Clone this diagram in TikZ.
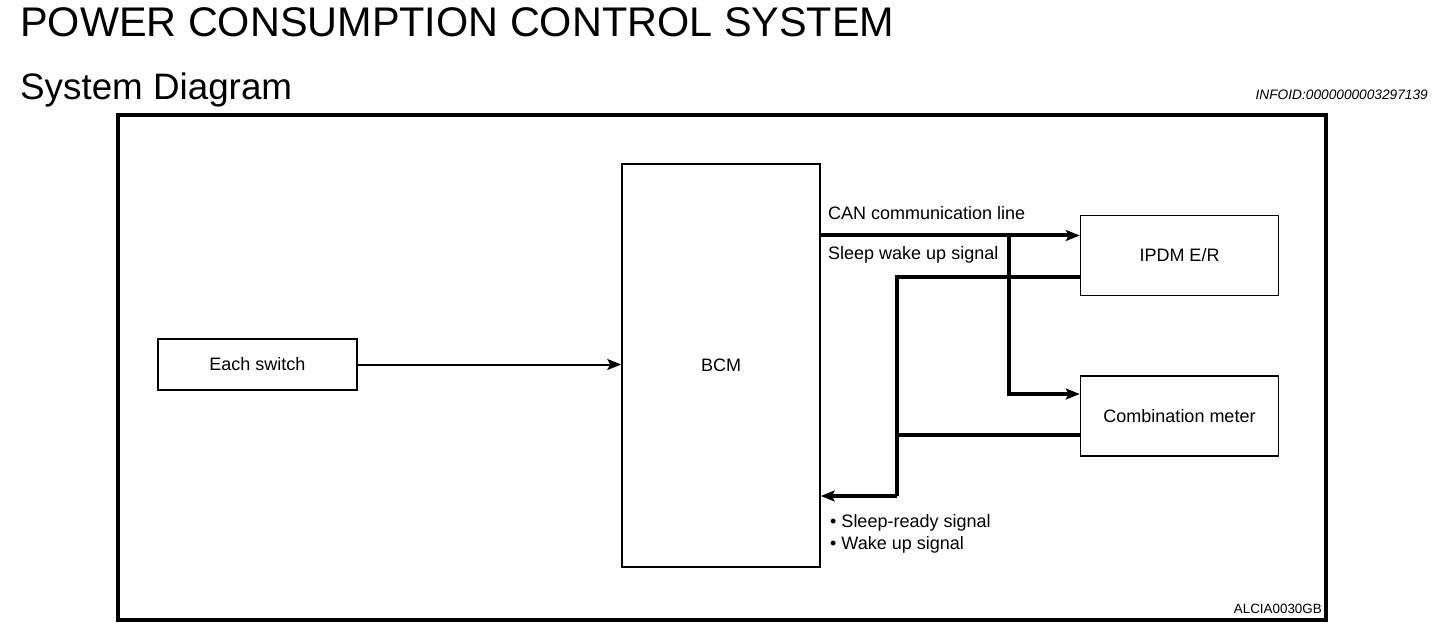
\documentclass[tikz,border=0pt]{standalone}
\usepackage{fontspec}
\setmainfont{Liberation Sans}
\usetikzlibrary{arrows.meta,positioning}

\begin{document}
\begin{tikzpicture}[x=1pt,y=-1pt,>={Stealth[length=14pt,width=11pt,inset=3pt]},font=\fontsize{18}{20}\selectfont]
  \tikzstyle{unit}=[draw,line width=1.5pt,inner sep=0pt,minimum width=198pt,minimum height=80pt]
  \tikzstyle{bus}=[line width=4pt]
  \tikzstyle{wire}=[line width=2pt]
  \tikzstyle{lbl}=[anchor=base west,inner sep=0pt]

  \useasboundingbox (0,0) rectangle (1456,636);

  % headings
  \node[lbl,font=\fontsize{41.4}{44}\selectfont] (title) at (20,37) {POWER CONSUMPTION CONTROL SYSTEM};
  \node[lbl,font=\fontsize{36.8}{40}\selectfont] (sub) at (20,100) {System Diagram};
  \node[anchor=base east,inner sep=0pt,font=\itshape\fontsize{13.7}{15}\selectfont] (info) at (1428,100) {INFOID:0000000003297139};

  \draw[line width=4pt] (118,115) rectangle (1326,620);

  % units
  \node[unit,minimum width=199pt,minimum height=51pt] (sw) at (257.5,364.5) {Each switch};
  \node[unit,minimum height=403pt] (bcm) at (721,365.5) {BCM};
  \node[unit] (ipdm) at (1179.5,255.5) {IPDM E/R};
  \node[unit] (meter) [below=0pt of ipdm,yshift=-79pt] {Combination meter};

  \coordinate (can) at ([yshift=20pt]ipdm.west);
  \coordinate (tap) at (1009,0 |- can);
  \coordinate (slp) at ([yshift=-22pt]ipdm.west);
  \coordinate (mback) at ([yshift=-19pt]meter.west);
  \coordinate (ret) at (897,496);

  \draw[->,wire] (sw.east) -- (sw.east -| bcm.west);
  \draw[->,bus] (bcm.east |- can) -- (can);
  \draw[->,bus] (tap) |- ([yshift=22pt]meter.west);
  \draw[bus] (slp) -| (ret);
  \draw[bus] (mback) -- (mback -| ret);
  \draw[->,bus] (ret) -- (ret -| bcm.east);

  % signal labels
  \node[lbl] (canlbl) at (828,220) {CAN communication line};
  \node[lbl] (slplbl) at (828,260) {Sleep wake up signal};
  \node[lbl] (rdy) at (830,527) {\textbullet\ Sleep-ready signal};
  \node[lbl] (wake) at (830,549) {\textbullet\ Wake up signal};

  \node[anchor=base east,inner sep=0pt,font=\fontsize{13.4}{15}\selectfont] (code) at (1322,613) {ALCIA0030GB};
\end{tikzpicture}
\end{document}
